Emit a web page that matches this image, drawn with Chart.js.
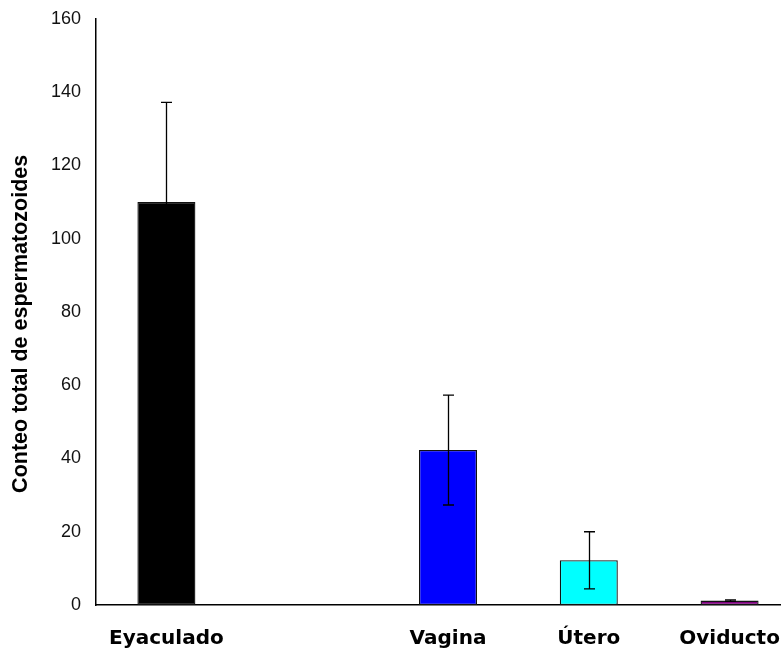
<!DOCTYPE html>
<html>
<head>
<meta charset="utf-8">
<script src="https://cdn.jsdelivr.net/npm/chart.js@4.4.1/dist/chart.umd.min.js"></script>
<style>
  html, body { margin: 0; padding: 0; background: #fff; overflow: hidden; }
  #clip { width: 781px; height: 655px; overflow: hidden; position: relative; }
  #wrap { width: 802px; height: 655px; position: absolute; left: 0; top: 0; }
</style>
</head>
<body>
<div id="clip"><div id="wrap"><canvas id="c"></canvas></div></div>
<script>
// Data
const categories = ["Eyaculado", "", "Vagina", "Útero", "Oviducto"];
const values = [110, null, 42.3, 12.2, 1.2];
const errors = [27.2, null, 15, 7.8, 0.2];
const barColors = ["#000000", "#000000", "#0000FF", "#00FFFF", "#800080"];
const yTicks = [0, 20, 40, 60, 80, 100, 120, 140, 160];
const yTitle = "Conteo total de espermatozoides";

const errorBarPlugin = {
  id: 'errorBars',
  afterDatasetsDraw(chart) {
    const ctx = chart.ctx;
    const meta = chart.getDatasetMeta(0);
    const y = chart.scales.y;
    ctx.save();
    ctx.strokeStyle = '#000';
    ctx.lineWidth = 1.3;
    meta.data.forEach((bar, i) => {
      const v = values[i], e = errors[i];
      if (v == null || e == null) return;
      const x = Math.round(bar.x) + 0.5;
      const yt = y.getPixelForValue(v + e);
      const yb = y.getPixelForValue(Math.max(0, v - e));
      const cap = 5.5;
      ctx.beginPath();
      ctx.moveTo(x, yt); ctx.lineTo(x, yb);
      ctx.moveTo(x - cap, yt); ctx.lineTo(x + cap, yt);
      ctx.moveTo(x - cap, yb); ctx.lineTo(x + cap, yb);
      ctx.stroke();
    });
    ctx.restore();
  }
};

new Chart(document.getElementById('c'), {
  type: 'bar',
  data: {
    labels: categories,
    datasets: [{
      data: values,
      backgroundColor: barColors,
      borderColor: '#111',
      borderWidth: 1.3,
      borderSkipped: false,
      categoryPercentage: 1.0,
      barPercentage: 0.412
    }]
  },
  options: {
    responsive: true,
    maintainAspectRatio: false,
    animation: false,
    events: [],
    layout: { padding: { top: 16, right: 1, left: 0, bottom: 0 } },
    plugins: {
      legend: { display: false },
      tooltip: { enabled: false }
    },
    scales: {
      x: {
        grid: { display: false, drawTicks: false },
        border: { display: true, color: '#000', width: 1.5 },
        ticks: {
          color: '#000',
          padding: 22,
          maxRotation: 0,
          autoSkip: false,
          font: { family: 'DejaVu Sans', weight: 'bold', size: 20 }
        },
        afterFit(scale) { scale.height = 50; }
      },
      y: {
        min: 0,
        max: 160,
        afterBuildTicks(scale) { scale.ticks = yTicks.map(v => ({ value: v })); },
        grid: { display: false, drawOnChartArea: false, drawTicks: true, tickLength: 7, tickColor: '#000', tickWidth: 1.5 },
        border: { display: true, color: '#000', width: 1.5 },
        ticks: {
          color: '#111',
          padding: 8,
          font: { family: 'Liberation Sans', size: 18 }
        },
        title: {
          display: true,
          text: yTitle + '    ',
          color: '#000',
          padding: { top: 8, bottom: 0 },
          font: { family: 'Liberation Sans', weight: 'bold', size: 21.5 }
        },
        afterFit(scale) { scale.width = 96; }
      }
    }
  },
  plugins: [errorBarPlugin]
});
</script>
</body>
</html>
